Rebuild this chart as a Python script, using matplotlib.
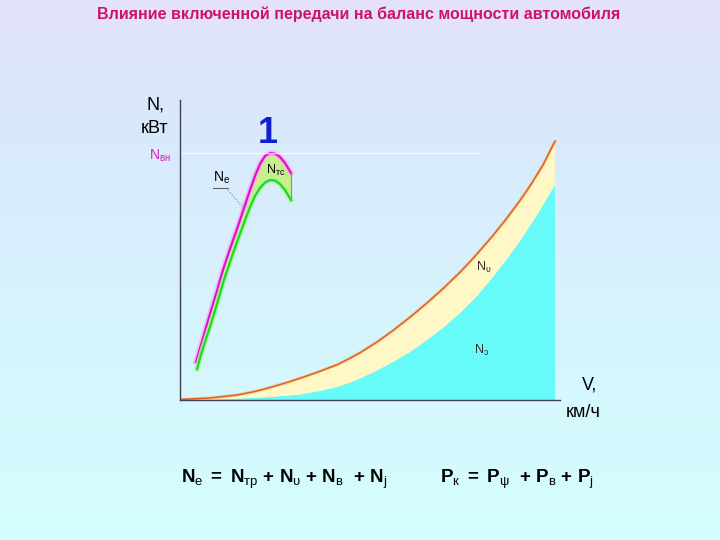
import numpy as np
import matplotlib
matplotlib.use("Agg")
import matplotlib.pyplot as plt
from matplotlib.colors import LinearSegmentedColormap

plt.rcParams['font.family'] = ['Liberation Sans', 'DejaVu Sans']
plt.rcParams['mathtext.fontset'] = 'custom'
plt.rcParams['mathtext.rm'] = 'Liberation Sans'
plt.rcParams['mathtext.bf'] = 'Liberation Sans:bold'
plt.rcParams['mathtext.it'] = 'Liberation Sans:italic'

# road resistance power (upper boundary, orange line), v in km/h, N in kW
v_road = [0, 15, 28.5, 37.5, 45, 53.5, 61.5, 70, 78.5, 85, 90, 98.5, 106.5, 115,
          123.5, 132, 140, 146.5, 156.5, 163.5, 170, 175, 181.5, 187.5]
n_road = [0.2, 0.8, 2.0, 3.4, 5.0, 7.0, 9.1, 11.5, 14.1, 16.7, 18.9, 23.2, 27.8, 33.1,
          38.8, 44.9, 51.1, 56.6, 65.8, 72.8, 79.8, 85.6, 94.0, 103.5]

# lower part (cyan area)
v_low = [0, 25, 45, 60, 70, 78.5, 85, 90, 98.5, 106.5, 115, 123.5, 132, 140,
         148.5, 156.5, 163.5, 170, 178.5, 187.5]
n_low = [0.0, 0.4, 1.2, 2.2, 3.6, 5.2, 7.0, 8.6, 11.8, 15.2, 19.2, 24.0, 29.2, 34.8,
         41.6, 49.2, 56.4, 63.6, 74.0, 86.0]

# engine power N_e (magenta) and power at wheels (green), 1st gear
v_eng = [8, 11.5, 15, 18.5, 21.5, 25, 28.5, 32, 35, 37.5, 40, 42.5, 45, 47.5, 50, 52.5, 55.5]
n_e = [15.2, 24.8, 34.4, 43.6, 52.0, 60.4, 68.4, 76.8, 84.0, 89.6, 94.4, 97.6, 98.8,
       98.6, 97.2, 94.8, 90.8]
v_wh = [8.5, 11.5, 15, 18.5, 21.5, 25, 28.5, 32, 35, 37.5, 40, 42.5, 45, 47.5, 50, 52.5, 55.5]
n_wh = [12.4, 20.8, 29.2, 38.4, 46.8, 55.2, 63.2, 70.8, 77.2, 81.6, 84.8, 87.0, 88.0,
        87.8, 86.4, 84.0, 80.0]

n_max = 98.8

fig = plt.figure(figsize=(7.2, 5.4), dpi=100)

# background gradient
bg = fig.add_axes([0, 0, 1, 1], zorder=-1)
cmap = LinearSegmentedColormap.from_list(
    "bg", [(0, "#e4e2f8"), (0.2, "#dae8fc"), (0.6, "#d6f4fd"), (1, "#d4feff")])
bg.imshow(np.linspace(0, 1, 256).reshape(-1, 1), aspect="auto", cmap=cmap,
          extent=[0, 1, 0, 1])
bg.axis("off")

ax = fig.add_axes([180 / 720, 140 / 540, 380 / 720, 300 / 540])
ax.set_facecolor("none")
ax.set_xlim(0, 190)
ax.set_ylim(0, 120)
for s in ["top", "right"]:
    ax.spines[s].set_visible(False)
for s in ["left", "bottom"]:
    ax.spines[s].set_color("#404050")
    ax.spines[s].set_linewidth(1)
ax.set_xticks([])
ax.set_yticks([])

# road power areas
ax.fill(np.r_[v_low, v_low[-1], 0], np.r_[n_low, 0, 0], color="#66fbf8", lw=0)
ax.fill(np.r_[v_road, v_low[::-1]], np.r_[n_road, n_low[::-1]], color="#fff8c6", lw=0)
ax.plot(v_road, n_road, color="#f7b070", lw=2.4, alpha=0.5, solid_joinstyle="round")
ax.plot(v_road, n_road, color="#e0601c", lw=1.1, solid_joinstyle="round")

# engine power curves
ax.fill(np.r_[v_eng, v_wh[::-1]], np.r_[n_e, n_wh[::-1]], color="#c8f08a", lw=0)
ax.plot(v_eng, n_e, color="#f8a8f0", lw=4, alpha=0.7, solid_joinstyle="round")
ax.plot(v_eng, n_e, color="#e010c8", lw=1.6, solid_joinstyle="round")
ax.plot(v_wh, n_wh, color="#a8f8a0", lw=4, alpha=0.7, solid_joinstyle="round")
ax.plot(v_wh, n_wh, color="#20d820", lw=1.6, solid_joinstyle="round")
ax.plot([v_eng[-1], v_wh[-1]], [n_e[-1], n_wh[-1]], color="#70a070", lw=0.8)

# max power level
ax.plot([0, 149], [n_max, n_max], color="white", lw=1, alpha=0.7)

# labels
ax.text(-12.5, 118, "N,", fontsize=13, ha="center", va="center", clip_on=False)
ax.text(-12.5, 108.5, "кВт", fontsize=13, ha="center", va="center", clip_on=False)
ax.text(-10, 97.5, r"N$_{\mathrm{вн}}$", fontsize=10, color="#e020c0", ha="center",
        va="center", clip_on=False)
ax.text(44, 106.5, "1", fontsize=26, fontweight="bold", color="#1020d0", ha="center",
        va="center")
ax.text(21, 89, r"N$_{\mathrm{e}}$", fontsize=10, ha="center", va="center")
ax.plot([16.5, 24], [84.8, 84.8], color="#606060", lw=0.8)
ax.plot([24, 31.5], [84, 77], color="#808080", lw=0.8, ls=":")
ax.text(48, 92, r"N$_{\mathrm{тс}}$", fontsize=9, ha="center", va="center")
ax.text(152, 53, r"N$_{\mathrm{υ}}$", fontsize=9, color="#303030", ha="center", va="center")
ax.text(151, 20, r"N$_{\mathrm{ɔ}}$", fontsize=9, color="#303030", ha="center", va="center")
ax.text(205, 6, "V,", fontsize=13, ha="center", va="center", clip_on=False)
ax.text(201.5, -5, "км/ч", fontsize=13, ha="center", va="center", clip_on=False)

fig.text(0.498, 1 - 14 / 540, "Влияние включенной передачи на баланс мощности автомобиля",
         fontsize=11.5, fontweight="bold", color="#cc1466", ha="center", va="center")
fig.text(284 / 720, 1 - 479 / 540,
         r"$\mathbf{N}_{\mathrm{e}}\ \mathbf{=}\ \mathbf{N}_{\mathrm{тр}}\ \mathbf{+}\ "
         r"\mathbf{N}_{\mathrm{υ}}\ \mathbf{+}\ \mathbf{N}_{\mathrm{в}}\ \ \mathbf{+}\ \mathbf{N}_{\mathrm{j}}$",
         fontsize=13.5, ha="center", va="center")
fig.text(517 / 720, 1 - 479 / 540,
         r"$\mathbf{P}_{\mathrm{к}}\ \mathbf{=}\ \mathbf{P}_{\mathrm{ψ}}\ \ \mathbf{+}\ "
         r"\mathbf{P}_{\mathrm{в}}\ \mathbf{+}\ \mathbf{P}_{\mathrm{j}}$",
         fontsize=13.5, ha="center", va="center")

fig.savefig("out.png", dpi=100)
